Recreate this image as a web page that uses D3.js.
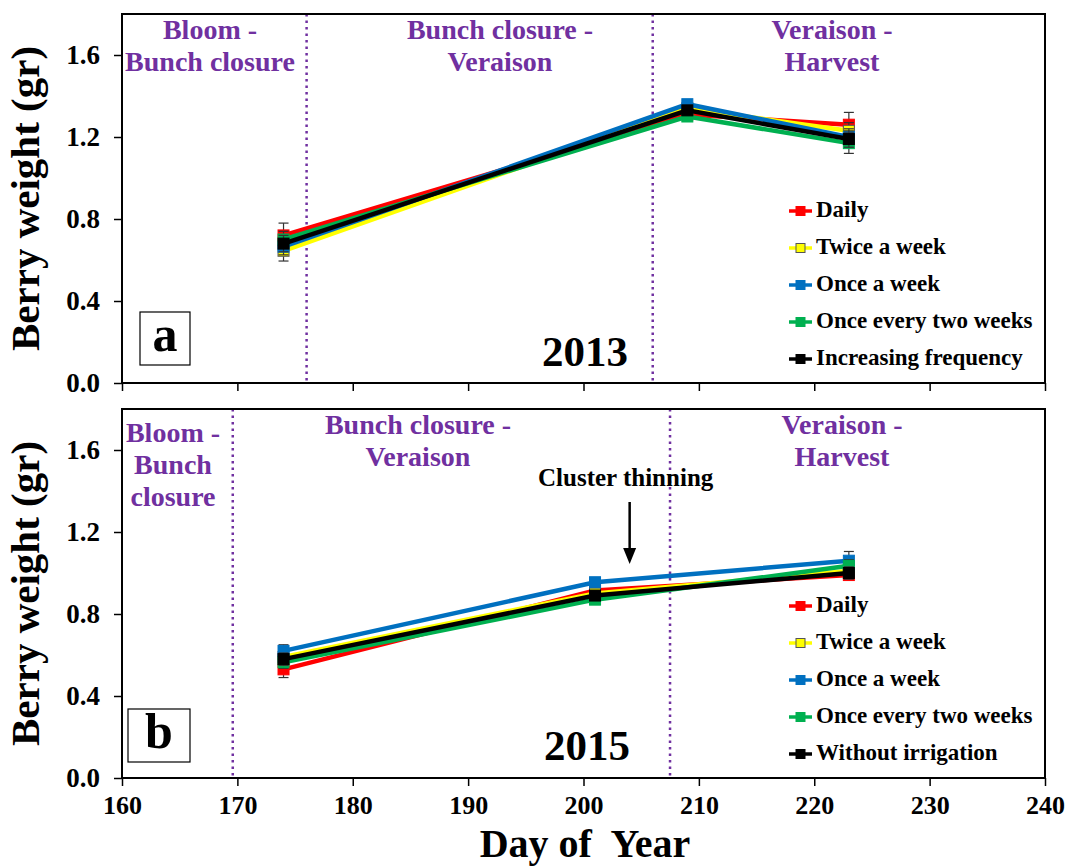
<!DOCTYPE html>
<html>
<head>
<meta charset="utf-8">
<script src="https://cdn.jsdelivr.net/npm/d3@7"></script>
<style>
  html, body { margin: 0; padding: 0; background: #fff; }
  svg text { font-family: "Liberation Serif", "Times New Roman", serif; font-weight: bold; }
</style>
</head>
<body>
<svg id="chart" width="1069" height="868"></svg>
<script>
// ---- data ----
const xTicks = [160, 170, 180, 190, 200, 210, 220, 230, 240];
const yTicks = [0.0, 0.4, 0.8, 1.2, 1.6];

const days2013 = [174, 209, 223];
const days2015 = [174, 201, 223];

const seriesNames2013 = ["Daily", "Twice a week", "Once a week", "Once every two weeks", "Increasing frequency"];
const seriesNames2015 = ["Daily", "Twice a week", "Once a week", "Once every two weeks", "Without irrigation"];
const seriesColors = ["#ff0000", "#ffff00", "#0070c0", "#00b050", "#000000"];

// berry weight (g), 2013
const daily2013      = [0.72, 1.31, 1.26];
const twice2013      = [0.645, 1.34, 1.23];
const once2013       = [0.665, 1.36, 1.20];
const twoWeeks2013   = [0.70, 1.30, 1.17];
const increasing2013 = [0.68, 1.33, 1.19];
// standard errors, 2013
const err2013 = [
  [0.06, 0.02, 0.06],
  [0.05, 0.02, 0.04],
  [0.04, 0.02, 0.04],
  [0.04, 0.02, 0.05],
  [0.04, 0.02, 0.04]
];

// berry weight (g), 2015
const daily2015      = [0.53, 0.915, 0.99];
const twice2015      = [0.59, 0.90, 1.01];
const once2015       = [0.62, 0.955, 1.06];
const twoWeeks2015   = [0.565, 0.87, 1.035];
const without2015    = [0.58, 0.89, 1.00];
const err2015 = [
  [0.04, 0.02, 0.02],
  [0.03, 0.02, 0.03],
  [0.03, 0.015, 0.045],
  [0.03, 0.02, 0.03],
  [0.03, 0.02, 0.03]
];

// phase boundaries (day of year)
const phaseBounds2013 = [176, 206];
const phaseBounds2015 = [169.6, 207.5];
const thinningDay = 204;

// ---- layout ----
const svg = d3.select("#chart");
const left = 122, right = 1045;
const x = d3.scaleLinear().domain([160, 240]).range([left, right]);

const panels = [
  {
    top: 14, bottom: 383, year: "2013", letter: "a",
    days: days2013,
    values: [daily2013, twice2013, once2013, twoWeeks2013, increasing2013],
    errs: err2013, names: seriesNames2013, bounds: phaseBounds2013,
    phases: [
      { lines: ["Bloom -", "Bunch closure"], cx: 210, y0: 33 },
      { lines: ["Bunch closure -", "Veraison"], cx: 500, y0: 33 },
      { lines: ["Veraison -", "Harvest"], cx: 832, y0: 33 }
    ],
    legendY: 211, letterBox: [140, 312, 50, 53], yearPos: [585, 356],
    showXLabels: false
  },
  {
    top: 409, bottom: 778, year: "2015", letter: "b",
    days: days2015,
    values: [daily2015, twice2015, once2015, twoWeeks2015, without2015],
    errs: err2015, names: seriesNames2015, bounds: phaseBounds2015,
    phases: [
      { lines: ["Bloom -", "Bunch", "closure"], cx: 173, y0: 436 },
      { lines: ["Bunch closure -", "Veraison"], cx: 418, y0: 428 },
      { lines: ["Veraison -", "Harvest"], cx: 842, y0: 428 }
    ],
    legendY: 606, letterBox: [128, 709, 62, 53], yearPos: [587, 750],
    showXLabels: true
  }
];

const purple = "#7030a0";

panels.forEach(p => {
  const y = d3.scaleLinear().domain([0, 1.8]).range([p.bottom, p.top]);
  const g = svg.append("g");

  // dotted phase boundaries
  p.bounds.forEach(d => {
    g.append("line")
      .attr("x1", x(d)).attr("x2", x(d))
      .attr("y1", p.top).attr("y2", p.bottom)
      .attr("stroke", purple).attr("stroke-width", 2.5)
      .attr("stroke-dasharray", "2.5,4");
  });

  // phase labels
  p.phases.forEach(ph => {
    ph.lines.forEach((t, i) => {
      g.append("text")
        .attr("x", ph.cx).attr("y", ph.y0 + i * 32)
        .attr("text-anchor", "middle").attr("dominant-baseline", "middle")
        .attr("font-size", 28).attr("fill", purple)
        .text(t);
    });
  });

  // y axis
  const yAxis = d3.axisLeft(y).tickValues(yTicks).tickFormat(d3.format(".1f"))
    .tickSize(8).tickPadding(14);
  const ya = g.append("g").attr("transform", `translate(${left},0)`).call(yAxis);
  ya.select(".domain").remove();
  ya.selectAll(".tick line").attr("stroke", "#000").attr("stroke-width", 1.5);
  ya.selectAll(".tick text").attr("font-size", 27).attr("fill", "#000")
    .attr("font-family", "Liberation Serif, serif").attr("font-weight", "bold");

  // x axis
  const xAxis = d3.axisBottom(x).tickValues(xTicks).tickSize(8).tickPadding(10)
    .tickFormat(p.showXLabels ? d3.format("d") : () => "");
  const xa = g.append("g").attr("transform", `translate(0,${p.bottom})`).call(xAxis);
  xa.select(".domain").remove();
  xa.selectAll(".tick line").attr("stroke", "#000").attr("stroke-width", 1.5);
  xa.selectAll(".tick text").attr("font-size", 26).attr("fill", "#000")
    .attr("font-family", "Liberation Serif, serif").attr("font-weight", "bold");

  // frame
  g.append("rect")
    .attr("x", left).attr("y", p.top)
    .attr("width", right - left).attr("height", p.bottom - p.top)
    .attr("fill", "none").attr("stroke", "#000").attr("stroke-width", 2);

  // y axis title
  g.append("text")
    .attr("transform", `translate(30,${(p.top + p.bottom) / 2}) rotate(-90)`)
    .attr("text-anchor", "middle").attr("dominant-baseline", "middle")
    .attr("font-size", 41).attr("fill", "#000")
    .text("Berry weight (gr)");

  // series
  const line = d3.line().x(d => x(d[0])).y(d => y(d[1]));
  p.values.forEach((vals, si) => {
    const pts = p.days.map((d, i) => [d, vals[i], p.errs[si][i]]);
    const sg = g.append("g");
    // error bars
    pts.forEach(d => {
      const cx = x(d[0]);
      const y1 = y(d[1] + d[2]), y2 = y(d[1] - d[2]);
      sg.append("line").attr("x1", cx).attr("x2", cx).attr("y1", y1).attr("y2", y2)
        .attr("stroke", "#333").attr("stroke-width", 1.2);
      [y1, y2].forEach(yy => sg.append("line")
        .attr("x1", cx - 5).attr("x2", cx + 5).attr("y1", yy).attr("y2", yy)
        .attr("stroke", "#333").attr("stroke-width", 1.2));
    });
    sg.append("path").datum(pts).attr("d", line)
      .attr("fill", "none").attr("stroke", seriesColors[si]).attr("stroke-width", 4.5);
    sg.selectAll("rect.m").data(pts).enter().append("rect")
      .attr("x", d => x(d[0]) - 5.5).attr("y", d => y(d[1]) - 5.5)
      .attr("width", 11).attr("height", 11)
      .attr("fill", seriesColors[si])
      .attr("stroke", si === 1 ? "#555" : seriesColors[si]).attr("stroke-width", 1);
  });

  // legend
  p.names.forEach((name, i) => {
    const ly = p.legendY + i * 37;
    g.append("line").attr("x1", 789).attr("x2", 812).attr("y1", ly).attr("y2", ly)
      .attr("stroke", seriesColors[i]).attr("stroke-width", 3.5);
    g.append("rect").attr("x", 796).attr("y", ly - 4.5).attr("width", 9).attr("height", 9)
      .attr("fill", seriesColors[i]).attr("stroke", i === 1 ? "#555" : seriesColors[i]);
    g.append("text").attr("x", 816).attr("y", ly + 1)
      .attr("dominant-baseline", "middle").attr("font-size", 23).attr("fill", "#000")
      .text(name);
  });

  // panel letter in a box
  const [bx, by, bw, bh] = p.letterBox;
  g.append("rect").attr("x", bx).attr("y", by).attr("width", bw).attr("height", bh)
    .attr("fill", "#fff").attr("stroke", "#000").attr("stroke-width", 1.2);
  g.append("text").attr("x", bx + bw / 2).attr("y", by + bh / 2 + 1)
    .attr("text-anchor", "middle").attr("dominant-baseline", "middle")
    .attr("font-size", 50).attr("fill", "#000").text(p.letter);

  // year
  g.append("text").attr("x", p.yearPos[0]).attr("y", p.yearPos[1])
    .attr("text-anchor", "middle").attr("dominant-baseline", "middle")
    .attr("font-size", 43).attr("fill", "#000").text(p.year);

  // cluster thinning marker (2015 only)
  if (p.year === "2015") {
    const ax = x(thinningDay);
    g.append("text").attr("x", ax - 4).attr("y", 480)
      .attr("text-anchor", "middle").attr("dominant-baseline", "middle")
      .attr("font-size", 25).attr("fill", "#000").text("Cluster thinning");
    g.append("line").attr("x1", ax).attr("x2", ax).attr("y1", 502).attr("y2", 550)
      .attr("stroke", "#000").attr("stroke-width", 2.5);
    g.append("path")
      .attr("d", `M${ax - 6.5},548 L${ax + 6.5},548 L${ax},564 Z`)
      .attr("fill", "#000");
  }
});

// x axis title
svg.append("text").attr("x", 585).attr("y", 848)
  .attr("text-anchor", "middle").attr("dominant-baseline", "middle")
  .attr("font-size", 40).attr("fill", "#000")
  .attr("xml:space", "preserve").style("white-space", "pre")
  .text("Day of  Year");
</script>
</body>
</html>
